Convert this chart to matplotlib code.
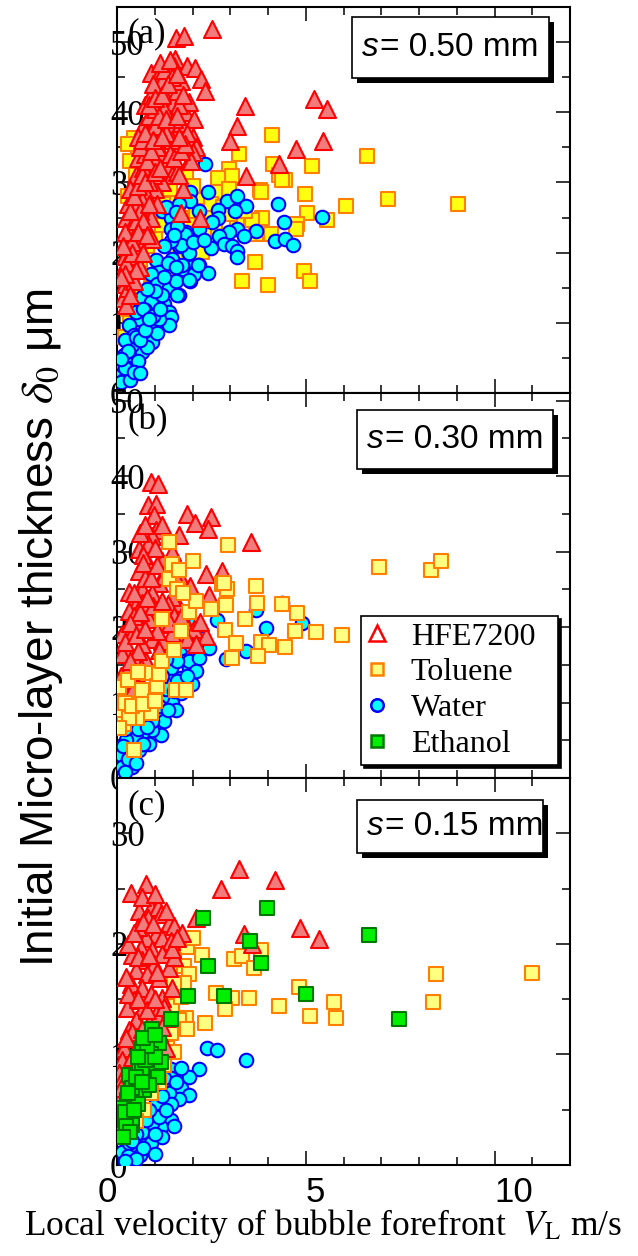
import numpy as np
import matplotlib.pyplot as plt
from matplotlib.lines import Line2D
from matplotlib.patches import Rectangle
from matplotlib.ticker import MultipleLocator

plt.rcParams['font.family'] = ['Liberation Serif', 'DejaVu Serif']
plt.rcParams['mathtext.fontset'] = 'stix'

# ---- data: (V_L [m/s], delta0 [um]) ----
# panel (a) s = 0.50 mm
a_hfe = [(1.56,50.6),(1.78,50.9),(2.52,51.9),(1.54,47.6),(1.51,46.6),(1.86,46.6),(2.07,46.3),(2.23,44.7),
         (2.33,43.0),(0.90,45.6),(1.11,45.4),(3.40,40.9),(3.18,38.0),(3.00,35.9),(3.42,30.9),(4.30,32.7),
         (4.75,34.7),(5.23,41.9),(5.57,40.4),(5.46,35.9),(1.70,25.6),(2.20,24.9),(0.15,13.5),(0.2,15.5),
         (0.3,17.5),(0.2,19.5),(0.3,21),(0.35,23),(0.25,25),(0.4,24),(0.45,26),(0.3,27),(0.5,28),(0.4,29.5),
         (0.6,30),(0.5,31),(0.7,32),(0.55,33.5),(0.75,34),(0.6,35),(0.8,36),(0.9,37.5),(0.7,38),(0.85,39.5),
         (1.0,40.5),(0.75,41),(0.9,42.5),(1.1,43),(1.2,44.5),(1.3,42),(1.4,40),(1.5,41.5),(1.6,43),(1.35,38),
         (1.55,37),(1.7,38.5),(1.8,40),(1.9,41.5),(1.7,44.5),(2.0,36.5),(2.1,35),(1.9,33),(1.1,36),(1.2,34),
         (1.0,33),(1.3,32.5),(1.45,31),(1.2,30),(1.0,29),(0.8,28),(0.7,26),(0.6,24),(0.5,22),(0.45,19.5),
         (0.35,17),(0.3,15),(1.6,31.5),(1.75,29),(1.05,27),(0.9,25),(0.65,22),(1.15,38.5),(1.25,40.5),
         (1.45,36),(0.95,31),(1.4,34),(0.93,22),(1.64,31.1),(2.0,34.4),(1.96,33),(0.25,12.5),(0.55,20),
         (0.4,21.5),(0.65,27.5),(0.85,30),(1.05,35),(1.3,37),(1.5,39),(1.65,41),(1.0,38),(0.95,44),(1.25,46),
         (1.45,45),(1.75,42.5),(2.05,39),(1.85,37),(0.5,26.5),(0.35,29),(0.55,36.5),(0.2,23),
         (0.25,18.5),(0.4,20),(0.5,24.5),(0.6,26),(0.35,26),(0.45,28),(0.55,29.5),(0.65,31),(0.75,30),
         (0.8,33),(0.9,34.5),(0.65,36),(0.75,37),(0.95,36),(1.1,39.5),(0.85,41),(1.0,42),(1.2,42.5),
         (1.35,44),(1.15,47),(1.4,47.5),(1.6,45.5),(1.3,39),(1.6,39.5),(1.2,36.5),(1.0,31.5),(1.15,32),
         (0.85,27),(0.7,24.5),(0.55,23),(0.45,16),(0.35,14),(0.6,18),(0.5,17.5),(0.7,20),(0.8,22.5),
         (0.2,17),(0.15,21),(0.1,16.5),(1.5,33.5),(1.7,34.5),(1.8,35.5),(1.65,36.5)]
a_tol = [(4.11,36.7),(3.24,34.0),(4.14,32.7),(4.30,31.1),(4.46,30.3),(5.17,32.3),(6.63,33.7),(2.97,31.9),
         (3.05,30.9),(2.68,30.6),(2.68,28.7),(2.97,29.1),(3.79,28.9),(4.99,28.4),(7.19,27.7),(6.07,26.6),
         (9.02,27.0),(5.04,25.7),(4.77,24.1),(5.57,24.7),(3.85,24.9),(3.58,24.7),(4.75,23.3),(4.08,22.6),
         (3.69,22.6),(3.18,24.1),(2.25,20.1),(3.66,18.7),(4.96,17.4),(5.12,15.9),(3.32,15.9),(4.00,15.4),
         (4.38,30.4),(3.82,28.7),(0.45,36.3),(0.56,33.6),(0.5,31),(0.3,28),(1.83,31),(2.2,27.5),(2.4,25.5),
         (1.1,18),(0.2,8),(0.35,10),(0.9,15),(1.3,17),(1.6,20),(1.0,12),(0.3,12),(0.5,14),(0.4,17),(0.6,19),
         (0.8,21),(0.7,23),(1.0,22),(1.2,24),(0.9,26),(1.3,27),(1.5,26),(1.7,25),(1.9,24),(2.1,26),(1.6,28),
         (1.4,29),(2.5,27),(2.8,26.5),(3.0,25.5),(2.6,23.5),(3.4,26),(2.0,29.5),(1.3,33),(1.1,31),(0.7,30),
         (2.3,22.5),(1.9,20.5),(0.35,33),(0.3,35.5)]
a_wat = [(2.33,32.7),(1.94,28.7),(2.41,28.6),(1.94,27.4),(2.92,27.4),(3.18,28.0),(4.27,26.9),(3.42,26.6),
         (2.68,26.1),(3.13,26.0),(2.18,25.9),(2.68,24.9),(5.44,25.1),(4.43,24.3),(2.52,24.4),(3.69,23.1),
         (3.18,23.3),(2.97,23.0),(3.37,22.3),(2.71,22.3),(2.18,23.3),(1.83,23.0),(4.19,21.6),(4.46,21.9),
         (4.67,21.1),(2.84,21.3),(3.05,20.9),(2.49,20.6),(3.18,20.3),(3.18,19.4),(1.64,20.9),(1.91,19.9),
         (2.18,18.3),(2.41,17.1),(1.96,18.0),(1.75,17.7),(1.94,16.0),(1.64,14.0),(1.19,25.9),(1.43,24.9),
         (1.64,26.9),(1.80,22.7),(1.43,23.3),(1.70,21.1),(1.43,21.7),(1.46,19.1),(1.03,19.0),(1.11,17.3),
         (0.90,16.9),(1.06,15.6),(1.38,14.9),(1.59,14.0),(0.66,13.7),(0.90,13.0),(1.25,12.7),(1.38,11.6),
         (1.43,10.9),(1.38,9.7),(0.58,10.6),(0.85,9.4),(0.93,7.3),(0.32,9.7),(0.45,8.3),(0.66,5.9),(0.40,6.9),
         (0.19,5.4),(0.40,4.1),(0.05,2.7),(0.24,2.3),(0.13,4.0),(1.56,15.9),(2.04,17.0),(2.15,18.3),(1.91,16.1),
         (1.72,18.3),(0.2,7.5),(0.5,11.5),(0.75,11.8),(1.1,10.5),(0.3,3.5),(0.55,4.5),(0.8,6.5),(1.05,8.5),
         (1.2,14),(1.25,21),(1.6,23.8),(2.0,21.5),(2.3,21.8),(0.1,1.5),(0.35,1.8),
         (0.3,6),(0.5,8),(0.6,7.5),(0.75,9),(0.7,12),(0.95,11),(1.0,14.5),(0.8,14.8),(1.15,12),(0.2,3.5),
         (0.45,3),(0.1,4.8),(0.6,2.8),(0.85,10.5),(1.25,16.5),(1.35,18.5),(1.55,18),(1.5,22.5),(1.3,26.5),
         (1.55,25.8)]

# panel (b) s = 0.30 mm
b_hfe = [(0.89,39.2),(1.09,39.0),(0.82,36.2),(1.03,36.3),(0.98,34.9),(1.03,32.9),(0.93,32.0),(1.86,35.0),
         (2.07,33.8),(2.49,34.6),(2.41,33.0),(1.64,32.2),(3.55,31.3),(0.58,30.4),(0.82,31.0),(1.46,30.0),
         (1.19,28.7),(1.35,28.0),(0.80,28.7),(0.58,27.4),(2.36,27.0),(2.79,27.4),(1.70,26.3),(1.94,25.5),
         (1.11,25.8),(0.32,24.7),(0.66,25.0),(2.44,24.3),(0.93,24.5),(1.59,23.2),(0.50,23.0),(0.32,22.1),
         (0.66,23.2),(1.03,21.7),(1.30,21.7),(0.85,21.1),(0.58,20.5),(1.17,20.4),(1.59,19.9),(1.86,20.1),
         (2.04,19.7),(2.36,18.8),(1.46,19.2),(1.86,18.4),(2.10,17.8),(0.13,19.1),(0.40,19.1),(0.93,18.4),
         (1.19,18.2),(0.66,17.8),(0.27,17.2),(0.13,16.4),(0.45,15.9),(0.77,15.5),(0.27,14.6),(0.37,13.3),
         (0.19,12.0),(0.27,10.7),(0.19,9.6),(0.64,14.6),(0.53,12.2),(1.0,30.5),(0.75,26.5),(1.25,26.8),
         (1.45,24),(0.45,21.5),(0.95,22.8),(1.35,23),(0.2,18),(0.55,16.8),(1.05,19.5),(1.5,21.5),(0.7,29.5),
         (1.2,33.5),(1.5,27),
         (0.6,32.5),(0.75,33.5),(0.7,28.5),(0.9,26.5),(1.05,28.2),(0.45,24.5),(0.6,22),(0.8,23.8),(1.2,23.5),
         (0.35,20.5),(0.5,19),(0.75,19.8),(0.35,15.5),(0.5,14),(0.4,11.5),(0.1,13.5),(0.15,10.5),(0.3,8.5),
         (1.4,20.5),(1.7,21.3),(2.2,20.6),(1.1,17)]
b_tol = [(2.94,30.9),(6.95,27.9),(8.33,27.6),(8.59,28.8),(2.79,25.7),(2.92,25.0),(3.69,25.5),(3.71,23.2),
         (4.38,23.0),(2.49,22.4),(2.89,22.9),(4.77,21.8),(3.40,21.0),(2.86,19.6),(4.72,19.5),(5.28,19.3),
         (5.97,18.9),(3.16,17.9),(3.82,18.0),(4.03,17.6),(4.46,17.4),(3.05,15.9),(3.74,16.1),(2.84,25.8),
         (1.38,31.3),(1.46,28.3),(1.38,26.3),(1.59,25.0),(0.05,12.0),(0.10,8.3),(0.19,7.2),(0.45,3.7),
         (0.82,13.9),(1.06,12.2),(0.66,11.6),(0.90,8.6),(0.53,7.9),(1.56,11.6),(1.83,11.7),(1.11,13.8),
         (0.32,8.0),(0.05,6.6),(0.2,10),(0.4,9.5),(0.7,9.8),(1.0,10.2),(0.3,13),(0.55,14),(1.2,15.5),(1.5,17),
         (1.7,19.5),(1.9,22),(2.1,23.5),(1.75,24.5),(1.65,27.5),(2.0,28.8),(1.2,21)]
b_wat = [(2.65,20.9),(3.69,22.2),(4.38,23.2),(3.95,19.9),(4.91,20.5),(3.42,16.8),(2.89,15.8),(2.04,20.4),
         (2.44,17.2),(1.96,16.6),(1.70,17.2),(1.43,17.5),(1.91,14.6),(1.70,13.3),(1.99,12.5),(1.43,14.6),
         (1.43,12.9),(1.70,11.2),(1.46,10.0),(1.19,10.7),(1.03,8.9),(1.25,7.6),(1.17,5.7),(0.93,6.3),
         (0.66,5.9),(0.50,5.3),(0.24,5.0),(0.32,3.4),(0.10,3.0),(0.27,2.0),(0.13,1.4),(0.58,3.7),(0.93,7.6),
         (1.91,15.5),(2.18,15.9),(2.10,14.2),(0.2,6.5),(0.45,7.5),(0.7,8.5),(0.85,4.5),(0.4,1.5),(1.3,11.8),
         (1.6,15.5),(1.2,13.5),(1.8,18.5),(2.2,18.5),(1.55,9),(0.15,4.2),
         (0.3,2.5),(0.5,2),(0.7,4.5),(0.55,6.5),(0.8,6.8),(1.1,9.5),(1.35,9),(1.5,11.5),(1.3,15.8),
         (1.6,12.8),(1.85,13.5),(1.95,17.5),(0.2,0.8)]

# panel (c) s = 0.15 mm
c_hfe = [(0.37,24.6),(0.77,25.4),(3.24,26.8),(4.19,25.8),(2.76,25.0),(2.10,22.3),(0.58,23.0),(0.90,23.2),
         (1.09,23.3),(1.17,22.7),(0.82,22.3),(1.38,21.9),(1.51,21.6),(1.72,21.0),(3.37,20.9),(3.58,20.0),
         (4.85,21.4),(5.36,20.4),(1.03,20.9),(0.77,20.5),(1.19,20.5),(1.43,20.3),(0.64,19.6),(0.93,19.4),
         (1.19,19.1),(0.66,18.5),(0.98,18.2),(1.38,17.8),(0.50,17.6),(0.80,17.3),(1.11,16.9),(0.37,16.4),
         (0.66,16.0),(0.90,15.5),(1.19,15.1),(0.45,14.9),(0.27,14.2),(0.66,14.0),(1.03,13.7),(1.33,13.3),
         (0.50,13.1),(0.32,12.2),(0.77,11.9),(1.11,11.9),(0.19,10.6),(0.50,10.5),(1.30,10.6),(0.13,9.5),
         (0.05,8.3),(0.24,7.0),(0.05,5.9),(0.03,4.7),(1.46,16.0),(0.55,21.5),(1.3,23),(0.4,19),(0.25,17),
         (0.85,12.8),(0.6,9.5),(0.35,8.5),(1.5,18.8),(1.25,14.3),(0.15,6.5),
         (0.3,20),(0.45,21),(0.7,22),(0.95,21.8),(0.55,18.8),(0.85,19),(1.05,17.5),(0.3,15.5),(0.55,15),
         (0.8,14),(1.0,15),(0.4,12),(0.65,12.3),(0.95,11),(0.25,11.5),(0.15,8),(0.4,9.8),(0.7,10.2),
         (1.2,12.5),(1.0,9.3),(0.1,7),(0.45,6),(0.2,5.2),(1.45,19.5),(1.6,20.5),(0.65,24.2),(1.0,24.5)]
c_tol = [(1.86,19.7),(2.25,19.0),(3.10,18.6),(3.32,18.9),(3.82,19.4),(3.63,17.8),(1.78,18.0),(1.51,18.5),
         (1.91,17.3),(1.78,16.5),(1.51,16.4),(4.83,16.1),(5.76,14.7),(2.63,15.6),(3.05,15.1),(3.50,15.1),
         (4.30,14.4),(5.12,13.5),(5.81,13.3),(2.86,14.1),(1.46,14.4),(1.83,13.3),(1.64,13.1),(1.86,12.3),
         (2.33,12.8),(1.43,11.9),(1.33,10.6),(0.72,5.0),(11.0,17.4),(8.46,17.3),(8.36,14.7),(1.6,20.4),
         (2.0,20.5),(1.25,9),(1.1,7.5),(0.9,6.5),(0.5,4),(0.35,3.2),(1.5,10.2),(1.7,15.2)]
c_wat = [(2.39,10.6),(2.65,10.4),(3.42,9.5),(2.18,8.7),(1.91,8.0),(1.43,8.7),(1.43,7.9),(1.70,7.0),
         (1.91,6.3),(1.64,6.0),(1.38,6.5),(1.43,5.5),(1.43,4.1),(1.17,3.4),(1.19,4.8),(1.03,5.6),(0.93,3.8),
         (0.77,2.4),(0.58,1.6),(0.40,1.4),(0.13,1.2),(0.32,2.0),(0.66,3.0),(0.93,6.5),(0.77,4.1),(1.11,7.0),
         (1.25,7.9),(1.70,8.8),(0.2,2.5),(0.5,2.8),(0.9,2),(1.2,2.5),(0.3,0.8),(0.6,0.9),
         (0.4,2.2),(0.7,1.5),(1.0,2.8),(1.1,4.3),(1.3,5),(0.85,5),(1.55,7.5),(1.2,6.2),(0.5,0.5),(0.2,0.4),
         (1.0,1),(1.5,3.5)]
c_eth = [(2.28,22.3),(3.98,23.2),(3.53,20.3),(3.82,18.3),(2.41,18.0),(1.88,15.3),(2.84,15.3),(5.01,15.5),
         (6.68,20.8),(7.48,13.2),(1.43,13.2),(0.93,12.3),(1.11,11.0),(0.66,10.5),(1.17,9.3),(0.80,8.4),
         (1.09,8.0),(0.32,8.1),(0.58,9.2),(0.72,6.8),(0.50,6.5),(0.27,5.9),(0.85,7.2),(0.66,8.6),(0.40,7.0),
         (0.13,5.2),(0.37,4.7),(0.40,3.6),(0.05,3.0),(0.19,4.1),(0.9,10),(0.55,5.5),(0.25,3.8),(0.75,9.5),
         (1.0,9.8),(0.5,8),(0.65,7.5),(0.8,10.8),(0.3,6.5),(0.55,9.8),(0.2,4.8),(0.45,5),(0.7,11.5),
         (1.0,11.8),(0.35,3),(0.15,2.5)]

gap_values = ['0.50', '0.30', '0.15']
panel_tags = ['(a)', '(b)', '(c)']
ylims = [55, 51, 35]
fluids = ['HFE7200', 'Toluene', 'Water', 'Ethanol']

sty = {
    'HFE7200': dict(marker='^', s=150, facecolor='#F27C7C', edgecolor='#FF0000', linewidths=1.5),
    'Toluene': dict(marker='s', s=105, facecolor='#FFFF10', edgecolor='#FF8000', linewidths=1.5),
    'Water':   dict(marker='o', s=95, facecolor='#00FFFF', edgecolor='#0000FF', linewidths=1.5),
    'Ethanol': dict(marker='s', s=105, facecolor='#00F000', edgecolor='#007800', linewidths=1.5),
}

# (data, fluid, zorder) per panel
panels = [
    [(a_tol, 'Toluene', 3), (a_wat, 'Water', 4), (a_hfe, 'HFE7200', 5)],
    [(b_wat, 'Water', 3), (b_hfe, 'HFE7200', 4), (b_tol, 'Toluene', 5)],
    [(c_wat, 'Water', 3), (c_tol, 'Toluene', 4), (c_hfe, 'HFE7200', 5), (c_eth, 'Ethanol', 6)],
]

# text boxes (axes fraction): x0, y0, w, h
boxes = [(0.519, 0.816, 0.435, 0.158), (0.530, 0.803, 0.433, 0.153), (0.530, 0.806, 0.411, 0.137)]

fig = plt.figure(figsize=(6.38, 12.56), dpi=100)
H = 1256.0
L, W = 117 / 638, 453 / 638
edges = [(7, 393), (393, 778), (778, 1165)]

axes = []
for i, (top, bot) in enumerate(edges):
    ax = fig.add_axes([L, 1 - bot / H, W, (bot - top) / H])
    axes.append(ax)
    for data, fl, z in panels[i]:
        d = np.array(data)
        st = dict(sty[fl])
        if fl == 'Toluene' and i > 0:
            st['facecolor'] = '#FFFF80'
        ax.scatter(d[:, 0], d[:, 1], zorder=z, **st)

    ax.set_xlim(0, 12)
    ax.set_ylim(0, ylims[i])
    ax.xaxis.set_major_locator(MultipleLocator(5))
    ax.xaxis.set_minor_locator(MultipleLocator(1))
    ax.yaxis.set_major_locator(MultipleLocator(10))
    ax.yaxis.set_minor_locator(MultipleLocator(5))
    ax.tick_params(which='both', direction='in', top=True, right=True, width=1.1)
    ax.tick_params(which='major', length=10)
    ax.tick_params(which='minor', length=6)
    ax.tick_params(axis='y', labelsize=25, pad=5)
    for t in ax.get_yticklabels():
        t.set_ha('left')
    for sp in ax.spines.values():
        sp.set_linewidth(1.5)
    if i < 2:
        ax.tick_params(axis='x', labelbottom=False)
    else:
        ax.tick_params(axis='x', pad=8)
        ax.set_xticks([0, 5, 10])
        ax.set_xticklabels(['0', '5', '10'], family='Liberation Sans', fontsize=25)
        for t in ax.get_xticklabels():
            t.set_ha('right' if t.get_text() == '0' else 'left')

    ax.text(0.024, 0.972, panel_tags[i], transform=ax.transAxes, ha='left', va='top',
            fontsize=25, zorder=1)

    x0, y0, w, h = boxes[i]
    hp = (bot - top)
    dx, dy = 5 / 453, 5 / hp
    ax.add_patch(Rectangle((x0 + dx, y0 - dy), w, h, transform=ax.transAxes,
                           facecolor='black', edgecolor='none', zorder=8))
    ax.add_patch(Rectangle((x0, y0), w, h, transform=ax.transAxes, facecolor='white',
                           edgecolor='black', linewidth=1.2, zorder=9))
    t1 = ax.text(x0 + 10 / 453, y0 + h / 2, 's', transform=ax.transAxes, ha='left',
                 va='center', fontsize=24, style='italic', family='Liberation Sans', zorder=10)
    ax.annotate('= ' + gap_values[i] + ' mm', xy=(1, 0), xycoords=t1, xytext=(0.5, 0),
                textcoords='offset points', ha='left', va='bottom', fontsize=24,
                family='Liberation Sans', zorder=10)

# legend in panel (b)
handles = [
    Line2D([], [], ls='none', marker='^', ms=11, mfc='white', mec='#FF0000', mew=1.8),
    Line2D([], [], ls='none', marker='s', ms=9, mfc='#FFFF80', mec='#FF8000', mew=1.8),
    Line2D([], [], ls='none', marker='o', ms=9, mfc='#00FFFF', mec='#0000FF', mew=1.8),
    Line2D([], [], ls='none', marker='s', ms=9, mfc='#00F000', mec='#007800', mew=1.8),
]
leg_h = 147 / 385
leg = axes[1].legend(handles, fluids, loc='upper left',
                     bbox_to_anchor=(0.539, 0.421 - leg_h, 0.435, leg_h), mode='expand',
                     borderaxespad=0, fontsize=23, frameon=True, fancybox=False,
                     edgecolor='black', framealpha=1, labelspacing=0.2, borderpad=0.2,
                     handlelength=0.6, handletextpad=0.75,
                     shadow={'color': 'black', 'alpha': 1})
leg.get_frame().set_linewidth(1.2)
leg.set_zorder(12)

fig.text(0.065, 0.5, r'Initial Micro-layer thickness $\delta_0$ μm', rotation=90,
         ha='center', va='center', fontsize=33, family='Liberation Sans')
fig.text(0.507, 0.024, r'Local velocity of bubble forefront  $V_\mathrm{L}$ m/s',
         ha='center', va='center', fontsize=25.5)

fig.savefig('out.png', dpi=100)
